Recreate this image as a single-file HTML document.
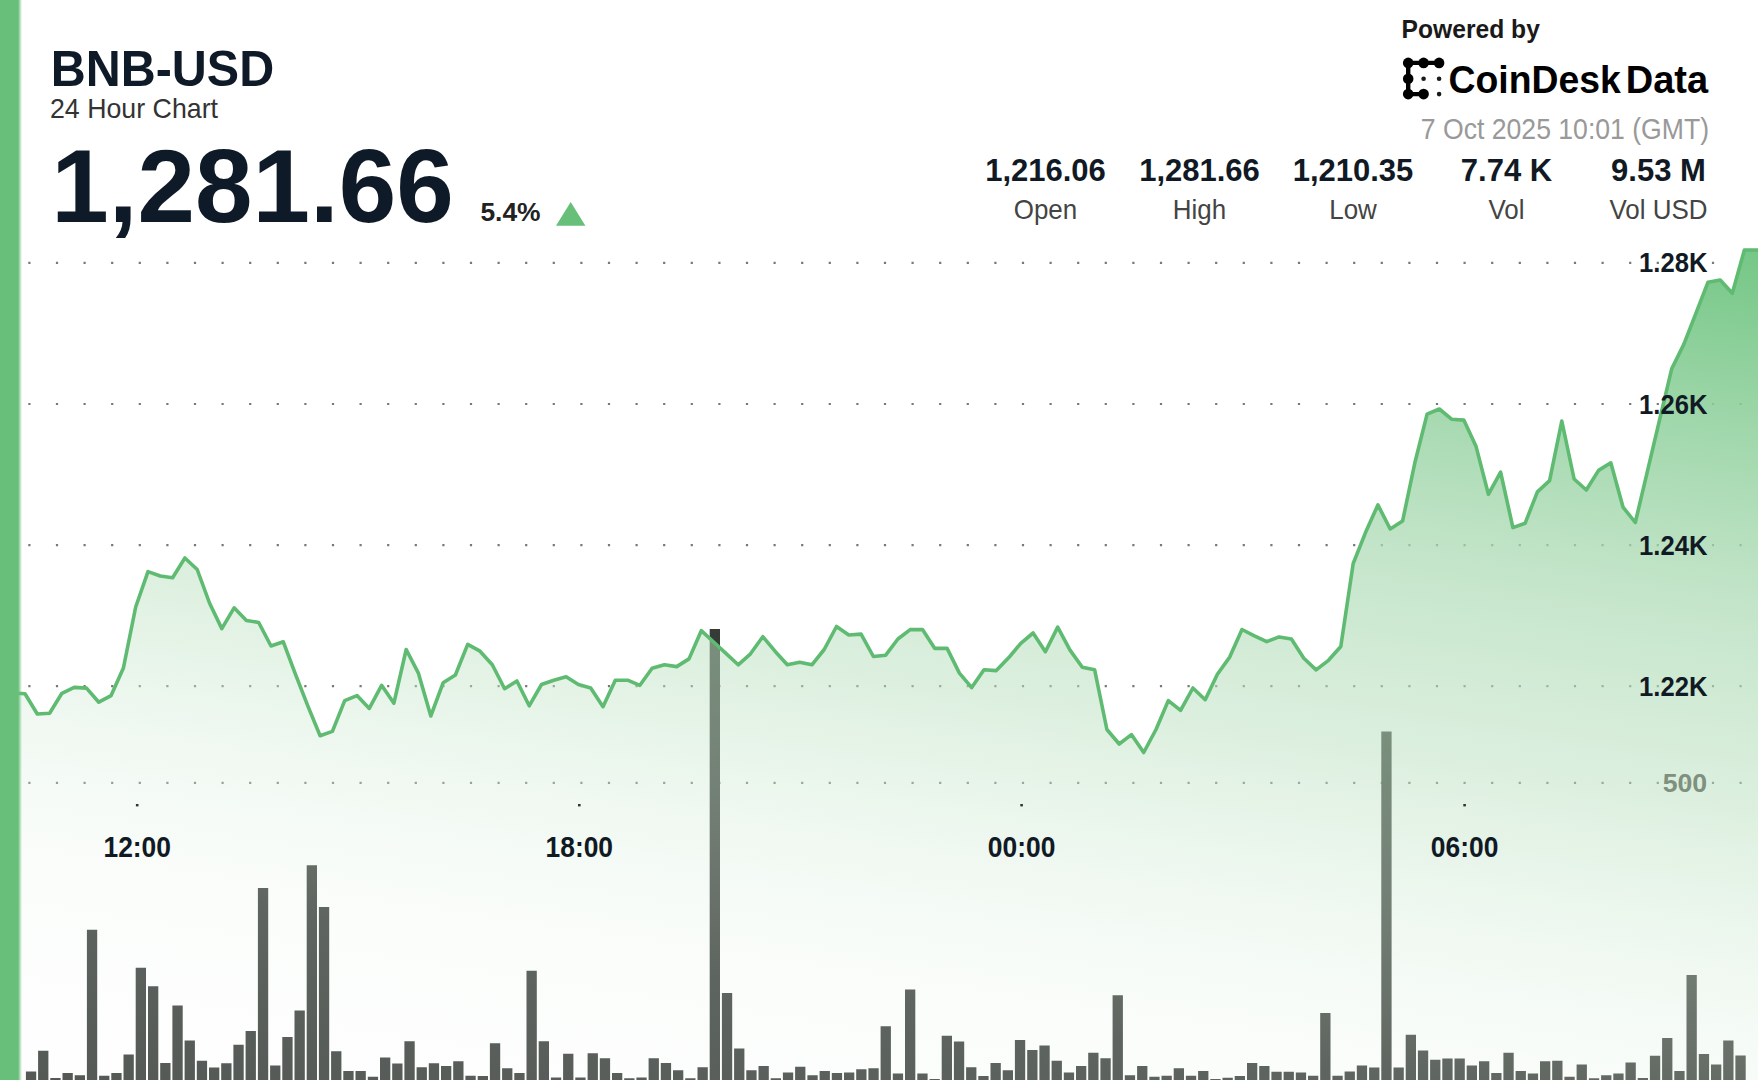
<!DOCTYPE html><html><head><meta charset="utf-8"><style>html,body{margin:0;padding:0;background:#fff;width:1758px;height:1080px;overflow:hidden}svg{display:block}text{font-family:"Liberation Sans",sans-serif}</style></head><body>
<svg width="1758" height="1080" viewBox="0 0 1758 1080">
<defs>
<linearGradient id="fg" gradientUnits="userSpaceOnUse" x1="1758" y1="253" x2="1596.7" y2="1331">
<stop offset="0" stop-color="rgb(118,199,135)" stop-opacity="1"/>
<stop offset="0.0615" stop-color="rgb(124,201,140)" stop-opacity="0.93"/>
<stop offset="0.329" stop-color="rgb(172,218,180)" stop-opacity="0.70"/>
<stop offset="0.505" stop-color="rgb(186,224,191)" stop-opacity="0.50"/>
<stop offset="0.644" stop-color="rgb(212,236,216)" stop-opacity="0.38"/>
<stop offset="0.80" stop-color="rgb(236,246,237)" stop-opacity="0.22"/>
<stop offset="1" stop-color="rgb(245,250,245)" stop-opacity="0.15"/>
</linearGradient>
<linearGradient id="ge" x1="0" y1="0" x2="1" y2="0"><stop offset="0" stop-color="#67bf79"/><stop offset="0.3" stop-color="#67bf79" stop-opacity="0.9"/><stop offset="1" stop-color="#67bf79" stop-opacity="0"/></linearGradient>
</defs>
<path d="M28.3 261.8h2.2v2.2h-2.2zM55.9 261.8h2.2v2.2h-2.2zM83.5 261.8h2.2v2.2h-2.2zM111.1 261.8h2.2v2.2h-2.2zM138.7 261.8h2.2v2.2h-2.2zM166.3 261.8h2.2v2.2h-2.2zM193.9 261.8h2.2v2.2h-2.2zM221.5 261.8h2.2v2.2h-2.2zM249.1 261.8h2.2v2.2h-2.2zM276.7 261.8h2.2v2.2h-2.2zM304.3 261.8h2.2v2.2h-2.2zM331.9 261.8h2.2v2.2h-2.2zM359.5 261.8h2.2v2.2h-2.2zM387.1 261.8h2.2v2.2h-2.2zM414.7 261.8h2.2v2.2h-2.2zM442.3 261.8h2.2v2.2h-2.2zM469.9 261.8h2.2v2.2h-2.2zM497.5 261.8h2.2v2.2h-2.2zM525.1 261.8h2.2v2.2h-2.2zM552.7 261.8h2.2v2.2h-2.2zM580.3 261.8h2.2v2.2h-2.2zM607.9 261.8h2.2v2.2h-2.2zM635.5 261.8h2.2v2.2h-2.2zM663.1 261.8h2.2v2.2h-2.2zM690.7 261.8h2.2v2.2h-2.2zM718.3 261.8h2.2v2.2h-2.2zM745.9 261.8h2.2v2.2h-2.2zM773.5 261.8h2.2v2.2h-2.2zM801.1 261.8h2.2v2.2h-2.2zM828.7 261.8h2.2v2.2h-2.2zM856.3 261.8h2.2v2.2h-2.2zM883.9 261.8h2.2v2.2h-2.2zM911.5 261.8h2.2v2.2h-2.2zM939.1 261.8h2.2v2.2h-2.2zM966.7 261.8h2.2v2.2h-2.2zM994.3 261.8h2.2v2.2h-2.2zM1021.9 261.8h2.2v2.2h-2.2zM1049.5 261.8h2.2v2.2h-2.2zM1077.1 261.8h2.2v2.2h-2.2zM1104.7 261.8h2.2v2.2h-2.2zM1132.3 261.8h2.2v2.2h-2.2zM1159.9 261.8h2.2v2.2h-2.2zM1187.5 261.8h2.2v2.2h-2.2zM1215.1 261.8h2.2v2.2h-2.2zM1242.7 261.8h2.2v2.2h-2.2zM1270.3 261.8h2.2v2.2h-2.2zM1297.9 261.8h2.2v2.2h-2.2zM1325.5 261.8h2.2v2.2h-2.2zM1353.1 261.8h2.2v2.2h-2.2zM1380.7 261.8h2.2v2.2h-2.2zM1408.3 261.8h2.2v2.2h-2.2zM1435.9 261.8h2.2v2.2h-2.2zM1463.5 261.8h2.2v2.2h-2.2zM1491.1 261.8h2.2v2.2h-2.2zM1518.7 261.8h2.2v2.2h-2.2zM1546.3 261.8h2.2v2.2h-2.2zM1573.9 261.8h2.2v2.2h-2.2zM1601.5 261.8h2.2v2.2h-2.2zM1629.1 261.8h2.2v2.2h-2.2zM1656.7 261.8h2.2v2.2h-2.2zM1684.3 261.8h2.2v2.2h-2.2zM1711.9 261.8h2.2v2.2h-2.2zM1739.5 261.8h2.2v2.2h-2.2zM28.3 402.9h2.2v2.2h-2.2zM55.9 402.9h2.2v2.2h-2.2zM83.5 402.9h2.2v2.2h-2.2zM111.1 402.9h2.2v2.2h-2.2zM138.7 402.9h2.2v2.2h-2.2zM166.3 402.9h2.2v2.2h-2.2zM193.9 402.9h2.2v2.2h-2.2zM221.5 402.9h2.2v2.2h-2.2zM249.1 402.9h2.2v2.2h-2.2zM276.7 402.9h2.2v2.2h-2.2zM304.3 402.9h2.2v2.2h-2.2zM331.9 402.9h2.2v2.2h-2.2zM359.5 402.9h2.2v2.2h-2.2zM387.1 402.9h2.2v2.2h-2.2zM414.7 402.9h2.2v2.2h-2.2zM442.3 402.9h2.2v2.2h-2.2zM469.9 402.9h2.2v2.2h-2.2zM497.5 402.9h2.2v2.2h-2.2zM525.1 402.9h2.2v2.2h-2.2zM552.7 402.9h2.2v2.2h-2.2zM580.3 402.9h2.2v2.2h-2.2zM607.9 402.9h2.2v2.2h-2.2zM635.5 402.9h2.2v2.2h-2.2zM663.1 402.9h2.2v2.2h-2.2zM690.7 402.9h2.2v2.2h-2.2zM718.3 402.9h2.2v2.2h-2.2zM745.9 402.9h2.2v2.2h-2.2zM773.5 402.9h2.2v2.2h-2.2zM801.1 402.9h2.2v2.2h-2.2zM828.7 402.9h2.2v2.2h-2.2zM856.3 402.9h2.2v2.2h-2.2zM883.9 402.9h2.2v2.2h-2.2zM911.5 402.9h2.2v2.2h-2.2zM939.1 402.9h2.2v2.2h-2.2zM966.7 402.9h2.2v2.2h-2.2zM994.3 402.9h2.2v2.2h-2.2zM1021.9 402.9h2.2v2.2h-2.2zM1049.5 402.9h2.2v2.2h-2.2zM1077.1 402.9h2.2v2.2h-2.2zM1104.7 402.9h2.2v2.2h-2.2zM1132.3 402.9h2.2v2.2h-2.2zM1159.9 402.9h2.2v2.2h-2.2zM1187.5 402.9h2.2v2.2h-2.2zM1215.1 402.9h2.2v2.2h-2.2zM1242.7 402.9h2.2v2.2h-2.2zM1270.3 402.9h2.2v2.2h-2.2zM1297.9 402.9h2.2v2.2h-2.2zM1325.5 402.9h2.2v2.2h-2.2zM1353.1 402.9h2.2v2.2h-2.2zM1380.7 402.9h2.2v2.2h-2.2zM1408.3 402.9h2.2v2.2h-2.2zM1435.9 402.9h2.2v2.2h-2.2zM1463.5 402.9h2.2v2.2h-2.2zM1491.1 402.9h2.2v2.2h-2.2zM1518.7 402.9h2.2v2.2h-2.2zM1546.3 402.9h2.2v2.2h-2.2zM1573.9 402.9h2.2v2.2h-2.2zM1601.5 402.9h2.2v2.2h-2.2zM1629.1 402.9h2.2v2.2h-2.2zM1656.7 402.9h2.2v2.2h-2.2zM1684.3 402.9h2.2v2.2h-2.2zM1711.9 402.9h2.2v2.2h-2.2zM1739.5 402.9h2.2v2.2h-2.2zM28.3 544h2.2v2.2h-2.2zM55.9 544h2.2v2.2h-2.2zM83.5 544h2.2v2.2h-2.2zM111.1 544h2.2v2.2h-2.2zM138.7 544h2.2v2.2h-2.2zM166.3 544h2.2v2.2h-2.2zM193.9 544h2.2v2.2h-2.2zM221.5 544h2.2v2.2h-2.2zM249.1 544h2.2v2.2h-2.2zM276.7 544h2.2v2.2h-2.2zM304.3 544h2.2v2.2h-2.2zM331.9 544h2.2v2.2h-2.2zM359.5 544h2.2v2.2h-2.2zM387.1 544h2.2v2.2h-2.2zM414.7 544h2.2v2.2h-2.2zM442.3 544h2.2v2.2h-2.2zM469.9 544h2.2v2.2h-2.2zM497.5 544h2.2v2.2h-2.2zM525.1 544h2.2v2.2h-2.2zM552.7 544h2.2v2.2h-2.2zM580.3 544h2.2v2.2h-2.2zM607.9 544h2.2v2.2h-2.2zM635.5 544h2.2v2.2h-2.2zM663.1 544h2.2v2.2h-2.2zM690.7 544h2.2v2.2h-2.2zM718.3 544h2.2v2.2h-2.2zM745.9 544h2.2v2.2h-2.2zM773.5 544h2.2v2.2h-2.2zM801.1 544h2.2v2.2h-2.2zM828.7 544h2.2v2.2h-2.2zM856.3 544h2.2v2.2h-2.2zM883.9 544h2.2v2.2h-2.2zM911.5 544h2.2v2.2h-2.2zM939.1 544h2.2v2.2h-2.2zM966.7 544h2.2v2.2h-2.2zM994.3 544h2.2v2.2h-2.2zM1021.9 544h2.2v2.2h-2.2zM1049.5 544h2.2v2.2h-2.2zM1077.1 544h2.2v2.2h-2.2zM1104.7 544h2.2v2.2h-2.2zM1132.3 544h2.2v2.2h-2.2zM1159.9 544h2.2v2.2h-2.2zM1187.5 544h2.2v2.2h-2.2zM1215.1 544h2.2v2.2h-2.2zM1242.7 544h2.2v2.2h-2.2zM1270.3 544h2.2v2.2h-2.2zM1297.9 544h2.2v2.2h-2.2zM1325.5 544h2.2v2.2h-2.2zM1353.1 544h2.2v2.2h-2.2zM1380.7 544h2.2v2.2h-2.2zM1408.3 544h2.2v2.2h-2.2zM1435.9 544h2.2v2.2h-2.2zM1463.5 544h2.2v2.2h-2.2zM1491.1 544h2.2v2.2h-2.2zM1518.7 544h2.2v2.2h-2.2zM1546.3 544h2.2v2.2h-2.2zM1573.9 544h2.2v2.2h-2.2zM1601.5 544h2.2v2.2h-2.2zM1629.1 544h2.2v2.2h-2.2zM1656.7 544h2.2v2.2h-2.2zM1684.3 544h2.2v2.2h-2.2zM1711.9 544h2.2v2.2h-2.2zM1739.5 544h2.2v2.2h-2.2zM28.3 685.1h2.2v2.2h-2.2zM55.9 685.1h2.2v2.2h-2.2zM83.5 685.1h2.2v2.2h-2.2zM111.1 685.1h2.2v2.2h-2.2zM138.7 685.1h2.2v2.2h-2.2zM166.3 685.1h2.2v2.2h-2.2zM193.9 685.1h2.2v2.2h-2.2zM221.5 685.1h2.2v2.2h-2.2zM249.1 685.1h2.2v2.2h-2.2zM276.7 685.1h2.2v2.2h-2.2zM304.3 685.1h2.2v2.2h-2.2zM331.9 685.1h2.2v2.2h-2.2zM359.5 685.1h2.2v2.2h-2.2zM387.1 685.1h2.2v2.2h-2.2zM414.7 685.1h2.2v2.2h-2.2zM442.3 685.1h2.2v2.2h-2.2zM469.9 685.1h2.2v2.2h-2.2zM497.5 685.1h2.2v2.2h-2.2zM525.1 685.1h2.2v2.2h-2.2zM552.7 685.1h2.2v2.2h-2.2zM580.3 685.1h2.2v2.2h-2.2zM607.9 685.1h2.2v2.2h-2.2zM635.5 685.1h2.2v2.2h-2.2zM663.1 685.1h2.2v2.2h-2.2zM690.7 685.1h2.2v2.2h-2.2zM718.3 685.1h2.2v2.2h-2.2zM745.9 685.1h2.2v2.2h-2.2zM773.5 685.1h2.2v2.2h-2.2zM801.1 685.1h2.2v2.2h-2.2zM828.7 685.1h2.2v2.2h-2.2zM856.3 685.1h2.2v2.2h-2.2zM883.9 685.1h2.2v2.2h-2.2zM911.5 685.1h2.2v2.2h-2.2zM939.1 685.1h2.2v2.2h-2.2zM966.7 685.1h2.2v2.2h-2.2zM994.3 685.1h2.2v2.2h-2.2zM1021.9 685.1h2.2v2.2h-2.2zM1049.5 685.1h2.2v2.2h-2.2zM1077.1 685.1h2.2v2.2h-2.2zM1104.7 685.1h2.2v2.2h-2.2zM1132.3 685.1h2.2v2.2h-2.2zM1159.9 685.1h2.2v2.2h-2.2zM1187.5 685.1h2.2v2.2h-2.2zM1215.1 685.1h2.2v2.2h-2.2zM1242.7 685.1h2.2v2.2h-2.2zM1270.3 685.1h2.2v2.2h-2.2zM1297.9 685.1h2.2v2.2h-2.2zM1325.5 685.1h2.2v2.2h-2.2zM1353.1 685.1h2.2v2.2h-2.2zM1380.7 685.1h2.2v2.2h-2.2zM1408.3 685.1h2.2v2.2h-2.2zM1435.9 685.1h2.2v2.2h-2.2zM1463.5 685.1h2.2v2.2h-2.2zM1491.1 685.1h2.2v2.2h-2.2zM1518.7 685.1h2.2v2.2h-2.2zM1546.3 685.1h2.2v2.2h-2.2zM1573.9 685.1h2.2v2.2h-2.2zM1601.5 685.1h2.2v2.2h-2.2zM1629.1 685.1h2.2v2.2h-2.2zM1656.7 685.1h2.2v2.2h-2.2zM1684.3 685.1h2.2v2.2h-2.2zM1711.9 685.1h2.2v2.2h-2.2zM1739.5 685.1h2.2v2.2h-2.2zM28.3 781.8h2.2v2.2h-2.2zM55.9 781.8h2.2v2.2h-2.2zM83.5 781.8h2.2v2.2h-2.2zM111.1 781.8h2.2v2.2h-2.2zM138.7 781.8h2.2v2.2h-2.2zM166.3 781.8h2.2v2.2h-2.2zM193.9 781.8h2.2v2.2h-2.2zM221.5 781.8h2.2v2.2h-2.2zM249.1 781.8h2.2v2.2h-2.2zM276.7 781.8h2.2v2.2h-2.2zM304.3 781.8h2.2v2.2h-2.2zM331.9 781.8h2.2v2.2h-2.2zM359.5 781.8h2.2v2.2h-2.2zM387.1 781.8h2.2v2.2h-2.2zM414.7 781.8h2.2v2.2h-2.2zM442.3 781.8h2.2v2.2h-2.2zM469.9 781.8h2.2v2.2h-2.2zM497.5 781.8h2.2v2.2h-2.2zM525.1 781.8h2.2v2.2h-2.2zM552.7 781.8h2.2v2.2h-2.2zM580.3 781.8h2.2v2.2h-2.2zM607.9 781.8h2.2v2.2h-2.2zM635.5 781.8h2.2v2.2h-2.2zM663.1 781.8h2.2v2.2h-2.2zM690.7 781.8h2.2v2.2h-2.2zM718.3 781.8h2.2v2.2h-2.2zM745.9 781.8h2.2v2.2h-2.2zM773.5 781.8h2.2v2.2h-2.2zM801.1 781.8h2.2v2.2h-2.2zM828.7 781.8h2.2v2.2h-2.2zM856.3 781.8h2.2v2.2h-2.2zM883.9 781.8h2.2v2.2h-2.2zM911.5 781.8h2.2v2.2h-2.2zM939.1 781.8h2.2v2.2h-2.2zM966.7 781.8h2.2v2.2h-2.2zM994.3 781.8h2.2v2.2h-2.2zM1021.9 781.8h2.2v2.2h-2.2zM1049.5 781.8h2.2v2.2h-2.2zM1077.1 781.8h2.2v2.2h-2.2zM1104.7 781.8h2.2v2.2h-2.2zM1132.3 781.8h2.2v2.2h-2.2zM1159.9 781.8h2.2v2.2h-2.2zM1187.5 781.8h2.2v2.2h-2.2zM1215.1 781.8h2.2v2.2h-2.2zM1242.7 781.8h2.2v2.2h-2.2zM1270.3 781.8h2.2v2.2h-2.2zM1297.9 781.8h2.2v2.2h-2.2zM1325.5 781.8h2.2v2.2h-2.2zM1353.1 781.8h2.2v2.2h-2.2zM1380.7 781.8h2.2v2.2h-2.2zM1408.3 781.8h2.2v2.2h-2.2zM1435.9 781.8h2.2v2.2h-2.2zM1463.5 781.8h2.2v2.2h-2.2zM1491.1 781.8h2.2v2.2h-2.2zM1518.7 781.8h2.2v2.2h-2.2zM1546.3 781.8h2.2v2.2h-2.2zM1573.9 781.8h2.2v2.2h-2.2zM1601.5 781.8h2.2v2.2h-2.2zM1629.1 781.8h2.2v2.2h-2.2zM1656.7 781.8h2.2v2.2h-2.2zM1684.3 781.8h2.2v2.2h-2.2zM1711.9 781.8h2.2v2.2h-2.2zM1739.5 781.8h2.2v2.2h-2.2z" fill="#787878"/>
<path d="M25.9 1071.4h10.3V1080h-10.3zM38.1 1050.8h10.3V1080h-10.3zM50.3 1078h10.3V1080h-10.3zM62.5 1073h10.3V1080h-10.3zM74.7 1075.3h10.3V1080h-10.3zM86.9 929.8h10.3V1080h-10.3zM99.1 1075.7h10.3V1080h-10.3zM111.3 1073h10.3V1080h-10.3zM123.5 1054.4h10.3V1080h-10.3zM135.7 967.7h10.3V1080h-10.3zM148 986.3h10.3V1080h-10.3zM160.2 1062.9h10.3V1080h-10.3zM172.4 1005.4h10.3V1080h-10.3zM184.6 1040.5h10.3V1080h-10.3zM196.8 1060.8h10.3V1080h-10.3zM209 1067.6h10.3V1080h-10.3zM221.2 1063.3h10.3V1080h-10.3zM233.4 1044.8h10.3V1080h-10.3zM245.6 1031h10.3V1080h-10.3zM257.9 887.9h10.3V1080h-10.3zM270.1 1065.5h10.3V1080h-10.3zM282.3 1036.9h10.3V1080h-10.3zM294.5 1010.4h10.3V1080h-10.3zM306.7 865.3h10.3V1080h-10.3zM318.9 907h10.3V1080h-10.3zM331.1 1051.2h10.3V1080h-10.3zM343.3 1071h10.3V1080h-10.3zM355.5 1071h10.3V1080h-10.3zM367.8 1076.7h10.3V1080h-10.3zM380 1057.6h10.3V1080h-10.3zM392.2 1063.5h10.3V1080h-10.3zM404.4 1041.2h10.3V1080h-10.3zM416.6 1067.2h10.3V1080h-10.3zM428.8 1063.3h10.3V1080h-10.3zM441 1066.1h10.3V1080h-10.3zM453.2 1061.2h10.3V1080h-10.3zM465.4 1075.7h10.3V1080h-10.3zM477.7 1076.1h10.3V1080h-10.3zM489.9 1043.3h10.3V1080h-10.3zM502.1 1068.2h10.3V1080h-10.3zM514.3 1073.1h10.3V1080h-10.3zM526.5 970.7h10.3V1080h-10.3zM538.7 1041.2h10.3V1080h-10.3zM550.9 1077.4h10.3V1080h-10.3zM563.1 1053.7h10.3V1080h-10.3zM575.3 1077.4h10.3V1080h-10.3zM587.6 1053.3h10.3V1080h-10.3zM599.8 1058.2h10.3V1080h-10.3zM612 1073.1h10.3V1080h-10.3zM624.2 1078.2h10.3V1080h-10.3zM636.4 1077.4h10.3V1080h-10.3zM648.6 1058.2h10.3V1080h-10.3zM660.8 1062.9h10.3V1080h-10.3zM673 1070.3h10.3V1080h-10.3zM685.2 1078.2h10.3V1080h-10.3zM697.5 1067.2h10.3V1080h-10.3zM709.7 629h10.3V1080h-10.3zM721.9 993.1h10.3V1080h-10.3zM734.1 1048.4h10.3V1080h-10.3zM746.3 1070.3h10.3V1080h-10.3zM758.5 1066.1h10.3V1080h-10.3zM770.7 1078.2h10.3V1080h-10.3zM782.9 1072.5h10.3V1080h-10.3zM795.1 1066.7h10.3V1080h-10.3zM807.4 1075.3h10.3V1080h-10.3zM819.6 1071h10.3V1080h-10.3zM831.8 1073.1h10.3V1080h-10.3zM844 1072.5h10.3V1080h-10.3zM856.2 1069.3h10.3V1080h-10.3zM868.4 1068.2h10.3V1080h-10.3zM880.6 1026.3h10.3V1080h-10.3zM892.8 1073.5h10.3V1080h-10.3zM905 989.5h10.3V1080h-10.3zM917.3 1073.5h10.3V1080h-10.3zM929.5 1078.9h10.3V1080h-10.3zM941.7 1035.7h10.3V1080h-10.3zM953.9 1041.6h10.3V1080h-10.3zM966.1 1067.2h10.3V1080h-10.3zM978.3 1076.1h10.3V1080h-10.3zM990.5 1062.9h10.3V1080h-10.3zM1002.7 1070.3h10.3V1080h-10.3zM1014.9 1039.9h10.3V1080h-10.3zM1027.2 1050.1h10.3V1080h-10.3zM1039.4 1045.4h10.3V1080h-10.3zM1051.6 1060.8h10.3V1080h-10.3zM1063.8 1072.5h10.3V1080h-10.3zM1076 1066.1h10.3V1080h-10.3zM1088.2 1052.7h10.3V1080h-10.3zM1100.4 1058.2h10.3V1080h-10.3zM1112.6 995.2h10.3V1080h-10.3zM1124.8 1075.3h10.3V1080h-10.3zM1137.1 1066.1h10.3V1080h-10.3zM1149.3 1076.7h10.3V1080h-10.3zM1161.5 1075.7h10.3V1080h-10.3zM1173.7 1068.2h10.3V1080h-10.3zM1185.9 1075.7h10.3V1080h-10.3zM1198.1 1071h10.3V1080h-10.3zM1210.3 1079h10.3V1080h-10.3zM1222.5 1077.8h10.3V1080h-10.3zM1234.7 1076.1h10.3V1080h-10.3zM1247 1062.9h10.3V1080h-10.3zM1259.2 1066.1h10.3V1080h-10.3zM1271.4 1071.8h10.3V1080h-10.3zM1283.6 1071.8h10.3V1080h-10.3zM1295.8 1072.5h10.3V1080h-10.3zM1308 1075.7h10.3V1080h-10.3zM1320.2 1012.9h10.3V1080h-10.3zM1332.4 1075.7h10.3V1080h-10.3zM1344.6 1071.4h10.3V1080h-10.3zM1356.8 1065.5h10.3V1080h-10.3zM1369.1 1067.6h10.3V1080h-10.3zM1381.3 731.5h10.3V1080h-10.3zM1393.5 1067.6h10.3V1080h-10.3zM1405.7 1034.8h10.3V1080h-10.3zM1417.9 1050.6h10.3V1080h-10.3zM1430.1 1059.7h10.3V1080h-10.3zM1442.3 1058.4h10.3V1080h-10.3zM1454.5 1058.4h10.3V1080h-10.3zM1466.7 1065.5h10.3V1080h-10.3zM1479 1061.2h10.3V1080h-10.3zM1491.2 1073.1h10.3V1080h-10.3zM1503.4 1052.7h10.3V1080h-10.3zM1515.6 1071h10.3V1080h-10.3zM1527.8 1073.5h10.3V1080h-10.3zM1540 1061.2h10.3V1080h-10.3zM1552.2 1060.8h10.3V1080h-10.3zM1564.4 1076.7h10.3V1080h-10.3zM1576.6 1064.6h10.3V1080h-10.3zM1588.9 1078.2h10.3V1080h-10.3zM1601.1 1075.3h10.3V1080h-10.3zM1613.3 1073.5h10.3V1080h-10.3zM1625.5 1062.5h10.3V1080h-10.3zM1637.7 1078h10.3V1080h-10.3zM1649.9 1055.8h10.3V1080h-10.3zM1662.1 1038h10.3V1080h-10.3zM1674.3 1071h10.3V1080h-10.3zM1686.5 975h10.3V1080h-10.3zM1698.8 1053.9h10.3V1080h-10.3zM1711 1064.4h10.3V1080h-10.3zM1723.2 1040.6h10.3V1080h-10.3zM1735.4 1055.6h10.3V1080h-10.3z" fill="#363b37"/>
<path d="M12.7 693 L25 693.7 L37.3 714 L49.6 713.3 L61.9 693.3 L74.2 687.4 L86.5 688.1 L98.8 702.2 L111.1 695.6 L123.4 668 L135.7 607 L148 571.6 L160.3 576 L172.6 577.7 L184.9 558 L197.2 569.5 L209.5 603 L221.8 628.6 L234.1 607.8 L246.4 620.4 L258.7 622.5 L271 646 L283.3 641.8 L295.6 674.6 L307.8 705.9 L320.1 735.7 L332.4 731.4 L344.7 700.7 L357 695.6 L369.3 708.4 L381.6 685.3 L393.9 703.2 L406.2 649.5 L418.5 673.4 L430.8 716 L443.1 682.8 L455.4 675 L467.7 644.4 L480 651.2 L492.3 664.8 L504.6 688.7 L516.9 681 L529.2 705.8 L541.5 684.5 L553.8 680.2 L566.1 676.8 L578.4 684.5 L590.7 687.9 L603 706.7 L615.3 680.2 L627.6 680.2 L639.9 685.3 L652.1 668.3 L664.4 664.8 L676.7 666.6 L689 658.9 L701.3 630.7 L713.6 642 L725.9 653.4 L738.2 664.8 L750.5 653.8 L762.8 636.7 L775 651.2 L787.3 664.8 L799.6 662.3 L811.9 664.8 L824.2 649.5 L836.5 626.5 L848.8 635 L861.1 634.1 L873.4 656.5 L885.7 655.2 L897.9 639 L910.2 629.6 L922.5 629.6 L934.8 648.4 L947.1 648.4 L959.4 673.1 L971.7 687.6 L984 669.7 L996.3 670.6 L1008.6 657.8 L1020.8 643.3 L1033.1 633 L1045.4 651.8 L1057.7 627.1 L1070 650.1 L1082.3 667.2 L1094.6 669.7 L1106.9 729.5 L1119.2 744 L1131.4 734.6 L1143.7 752.5 L1156 729.5 L1168.3 700.6 L1180.6 710.4 L1192.9 688 L1205.2 699.7 L1217.4 674.2 L1229.7 657.1 L1242 629.5 L1254.4 635.8 L1266.7 641.6 L1279.1 636.9 L1291.4 639 L1303.8 658.2 L1316.1 669.9 L1328.5 660.3 L1340.8 646.5 L1353.2 563.5 L1365.5 532.6 L1377.9 504.9 L1390.2 529 L1402.6 521 L1414.8 463 L1427.1 414.1 L1439.3 409 L1451.6 419.2 L1463.8 420.1 L1476.1 446.6 L1488.4 494.3 L1500.6 472.1 L1512.9 527.6 L1525.1 523.3 L1537.4 491.8 L1549.6 480.7 L1561.8 421 L1574.1 479 L1586.3 490 L1598.6 470.4 L1610.8 462.8 L1623 507.1 L1635.3 522.5 L1647.4 471.3 L1659.5 420.1 L1671.7 368.9 L1683.8 344.4 L1695.9 313.3 L1708 282.2 L1720.2 280 L1732.3 293.3 L1744.4 250 L1756.6 250 L1768.8 250 L1768.8 1080 L12.7 1080Z" fill="url(#fg)"/>
<path d="M12.7 693 L25 693.7 L37.3 714 L49.6 713.3 L61.9 693.3 L74.2 687.4 L86.5 688.1 L98.8 702.2 L111.1 695.6 L123.4 668 L135.7 607 L148 571.6 L160.3 576 L172.6 577.7 L184.9 558 L197.2 569.5 L209.5 603 L221.8 628.6 L234.1 607.8 L246.4 620.4 L258.7 622.5 L271 646 L283.3 641.8 L295.6 674.6 L307.8 705.9 L320.1 735.7 L332.4 731.4 L344.7 700.7 L357 695.6 L369.3 708.4 L381.6 685.3 L393.9 703.2 L406.2 649.5 L418.5 673.4 L430.8 716 L443.1 682.8 L455.4 675 L467.7 644.4 L480 651.2 L492.3 664.8 L504.6 688.7 L516.9 681 L529.2 705.8 L541.5 684.5 L553.8 680.2 L566.1 676.8 L578.4 684.5 L590.7 687.9 L603 706.7 L615.3 680.2 L627.6 680.2 L639.9 685.3 L652.1 668.3 L664.4 664.8 L676.7 666.6 L689 658.9 L701.3 630.7 L713.6 642 L725.9 653.4 L738.2 664.8 L750.5 653.8 L762.8 636.7 L775 651.2 L787.3 664.8 L799.6 662.3 L811.9 664.8 L824.2 649.5 L836.5 626.5 L848.8 635 L861.1 634.1 L873.4 656.5 L885.7 655.2 L897.9 639 L910.2 629.6 L922.5 629.6 L934.8 648.4 L947.1 648.4 L959.4 673.1 L971.7 687.6 L984 669.7 L996.3 670.6 L1008.6 657.8 L1020.8 643.3 L1033.1 633 L1045.4 651.8 L1057.7 627.1 L1070 650.1 L1082.3 667.2 L1094.6 669.7 L1106.9 729.5 L1119.2 744 L1131.4 734.6 L1143.7 752.5 L1156 729.5 L1168.3 700.6 L1180.6 710.4 L1192.9 688 L1205.2 699.7 L1217.4 674.2 L1229.7 657.1 L1242 629.5 L1254.4 635.8 L1266.7 641.6 L1279.1 636.9 L1291.4 639 L1303.8 658.2 L1316.1 669.9 L1328.5 660.3 L1340.8 646.5 L1353.2 563.5 L1365.5 532.6 L1377.9 504.9 L1390.2 529 L1402.6 521 L1414.8 463 L1427.1 414.1 L1439.3 409 L1451.6 419.2 L1463.8 420.1 L1476.1 446.6 L1488.4 494.3 L1500.6 472.1 L1512.9 527.6 L1525.1 523.3 L1537.4 491.8 L1549.6 480.7 L1561.8 421 L1574.1 479 L1586.3 490 L1598.6 470.4 L1610.8 462.8 L1623 507.1 L1635.3 522.5 L1647.4 471.3 L1659.5 420.1 L1671.7 368.9 L1683.8 344.4 L1695.9 313.3 L1708 282.2 L1720.2 280 L1732.3 293.3 L1744.4 250 L1756.6 250 L1768.8 250" fill="none" stroke="#5fbb72" stroke-width="3.6" stroke-linejoin="round" stroke-linecap="round"/>
<rect x="0" y="0" width="18" height="1080" fill="#67bf79"/><rect x="17" y="0" width="5" height="1080" fill="url(#ge)"/>
<text transform="translate(1707.5,272.4) scale(0.92,1)" text-anchor="end" font-size="27.9" font-weight="bold" fill="#111a24">1.28K</text>
<text transform="translate(1707.5,413.5) scale(0.92,1)" text-anchor="end" font-size="27.9" font-weight="bold" fill="#111a24">1.26K</text>
<text transform="translate(1707.5,554.6) scale(0.92,1)" text-anchor="end" font-size="27.9" font-weight="bold" fill="#111a24">1.24K</text>
<text transform="translate(1707.5,695.7) scale(0.92,1)" text-anchor="end" font-size="27.9" font-weight="bold" fill="#111a24">1.22K</text>
<text transform="translate(1707.2,791.6) scale(1.03,1)" text-anchor="end" font-size="25.9" font-weight="bold" fill="#7f907f">500</text>
<rect x="135.9" y="804" width="2.6" height="2.4" fill="#333"/>
<text transform="translate(137.2,857) scale(0.91,1)" text-anchor="middle" font-size="29" font-weight="bold" fill="#111a24">12:00</text>
<rect x="578" y="804" width="2.6" height="2.4" fill="#333"/>
<text transform="translate(579.3,857) scale(0.91,1)" text-anchor="middle" font-size="29" font-weight="bold" fill="#111a24">18:00</text>
<rect x="1020.3" y="804" width="2.6" height="2.4" fill="#333"/>
<text transform="translate(1021.6,857) scale(0.91,1)" text-anchor="middle" font-size="29" font-weight="bold" fill="#111a24">00:00</text>
<rect x="1463.3" y="804" width="2.6" height="2.4" fill="#333"/>
<text transform="translate(1464.6,857) scale(0.91,1)" text-anchor="middle" font-size="29" font-weight="bold" fill="#111a24">06:00</text>
<text transform="translate(50.8,85.8) scale(0.967,1)" font-size="50.1" font-weight="bold" fill="#0e1a27">BNB-USD</text>
<text transform="translate(50,118.2) scale(0.942,1)" font-size="28.4" fill="#333">24 Hour Chart</text>
<text transform="translate(51.3,221.7)" font-size="103.4" font-weight="bold" fill="#0e1a27">1,281.66</text>
<text transform="translate(480.4,221)" font-size="26.4" font-weight="bold" fill="#222">5.4%</text>
<path d="M556 225.8L585.4 225.8L570.7 202Z" fill="#67bf79"/>
<text transform="translate(1401.6,37.6) scale(0.93,1)" font-size="26.5" font-weight="bold" fill="#1a1a1a">Powered by</text>
<text transform="translate(1448.5,92.6) scale(0.961,1)" font-size="38.9" font-weight="bold" fill="#000">CoinDesk</text>
<text transform="translate(1625.7,92.6) scale(0.977,1)" font-size="38.9" font-weight="bold" fill="#000">Data</text>
<text transform="translate(1709,138.6) scale(0.905,1)" text-anchor="end" font-size="29.4" fill="#999">7 Oct 2025 10:01 (GMT)</text>
<path d="M1439.1 62.9H1408.2V94.1H1423.6" fill="none" stroke="#000" stroke-width="4.4"/><circle cx="1408.2" cy="62.9" r="5.3" fill="#000"/><circle cx="1423.6" cy="62.9" r="5.3" fill="#000"/><circle cx="1439.1" cy="62.9" r="5.3" fill="#000"/><circle cx="1408.2" cy="78.7" r="5.3" fill="#000"/><circle cx="1408.2" cy="94.1" r="5.3" fill="#000"/><circle cx="1423.6" cy="94.1" r="5.3" fill="#000"/><circle cx="1423.6" cy="78.7" r="2.3" fill="#1a1a1a"/><circle cx="1439.1" cy="78.7" r="2.3" fill="#1a1a1a"/><circle cx="1439.1" cy="94.1" r="2.3" fill="#1a1a1a"/>
<text x="1045.5" y="180.7" text-anchor="middle" font-size="31" font-weight="bold" fill="#111a24">1,216.06</text>
<text transform="translate(1045.5,218.5) scale(0.93,1)" text-anchor="middle" font-size="27.9" fill="#444">Open</text>
<text x="1199.5" y="180.7" text-anchor="middle" font-size="31" font-weight="bold" fill="#111a24">1,281.66</text>
<text transform="translate(1199.5,218.5) scale(0.93,1)" text-anchor="middle" font-size="27.9" fill="#444">High</text>
<text x="1353" y="180.7" text-anchor="middle" font-size="31" font-weight="bold" fill="#111a24">1,210.35</text>
<text transform="translate(1353,218.5) scale(0.93,1)" text-anchor="middle" font-size="27.9" fill="#444">Low</text>
<text x="1506.5" y="180.7" text-anchor="middle" font-size="31" font-weight="bold" fill="#111a24">7.74 K</text>
<text transform="translate(1506.5,218.5) scale(0.93,1)" text-anchor="middle" font-size="27.9" fill="#444">Vol</text>
<text x="1658.5" y="180.7" text-anchor="middle" font-size="31" font-weight="bold" fill="#111a24">9.53 M</text>
<text transform="translate(1658.5,218.5) scale(0.93,1)" text-anchor="middle" font-size="27.9" fill="#444">Vol USD</text>
</svg></body></html>
